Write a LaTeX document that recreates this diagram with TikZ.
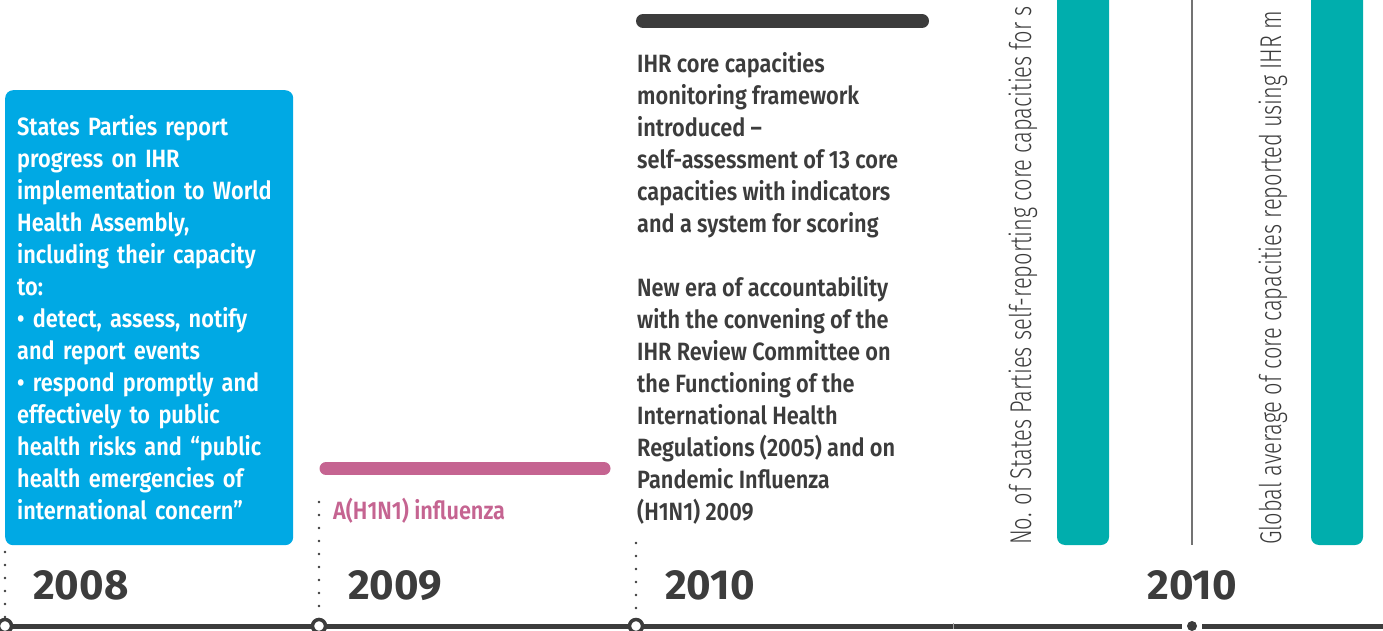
\documentclass[tikz,border=0pt]{standalone}
\usepackage{fontspec}
\usetikzlibrary{calc}
\setmainfont{Fira Sans}
\newfontfamily\bodyfont[FakeStretch=0.87]{Fira Sans SemiBold}
\newfontfamily\thinfont[FakeStretch=0.73]{Fira Sans Light}

\definecolor{timegray}{RGB}{60,60,60}
\definecolor{ihrblue}{RGB}{0,169,228}
\definecolor{ihrpink}{RGB}{197,100,145}
\definecolor{ihrteal}{RGB}{0,174,173}

\tikzset{
  bodytext/.style={anchor=north west, inner sep=0pt, align=left,
    font=\bodyfont\fontsize{25}{32}\selectfont},
  yearlabel/.style={anchor=base west, inner sep=0pt, text=timegray,
    font=\fontsize{42}{42}\selectfont\bfseries},
  sidelabel/.style={anchor=base west, rotate=90, inner sep=0pt, text=timegray,
    font=\thinfont\fontsize{30}{30}\selectfont},
  marker/.style={circle, draw=timegray, fill=white, line width=3.5pt,
    minimum size=13pt, inner sep=0pt},
  dotline/.style={timegray, line width=2.8pt, line cap=round, dash pattern=on 0pt off 13pt},
  eventbar/.style={line width=14pt, line cap=round},
  timeline/.style={timegray, line width=5pt}
}

\begin{document}
\begin{tikzpicture}[x=1pt, y=-1pt]

    % Page frame, anything beyond it is cut off
    \clip (0,0) rectangle (1383,631);

    % Points of the time axis
    \coordinate (tstart) at (0,626);
    \coordinate (t2008) at (5,626);
    \coordinate (t2009) at (319,626);
    \coordinate (t2010) at (636,626);
    \coordinate (tseam) at (953,626);
    \coordinate (gapleft) at (1182,626);
    \coordinate (t2010b) at (1192,626);
    \coordinate (gapright) at (1202,626);
    \coordinate (tend) at (1383,626);

    % The time axis itself, with a gap round the last mark
    \draw[timeline] (tstart) -- (gapleft);
    \draw[timeline] (gapright) -- (tend);
    \draw[gray!70, line width=0.8pt] ($(tseam)+(0,-3)$) -- ($(tseam)+(0,3)$);

    % 2008: blue box with the report
    \node[bodytext, anchor=north west, fill=ihrblue, text=white, rounded corners=8pt,
          text width=264pt, inner xsep=12pt, inner ysep=0pt,
          minimum width=288pt, minimum height=455pt] (report) at (5,90)
      {States Parties report\\
       progress on IHR\\
       implementation to World\\
       Health Assembly,\\
       including their capacity\\
       to:\\
       \textbullet{} detect, assess, notify\\
       and report events\\
       \textbullet{} respond promptly and\\
       effectively to public\\
       health risks and “public\\
       health emergencies of\\
       international concern”};

    % 2009: pink bar and label
    \coordinate (pinkleft) at (326,468.5);
    \coordinate (pinkright) at (604,468.5);
    \draw[eventbar, ihrpink, line width=13pt] (pinkleft) -- (pinkright);
    \node[bodytext, anchor=base west, text=ihrpink] (flu) at (333,519) {A(H1N1) influenza};

    % 2010: dark bar and the two paragraphs
    \coordinate (darkleft) at (643,21);
    \coordinate (darkright) at (922,21);
    \draw[eventbar, timegray] (darkleft) -- (darkright);
    \node[bodytext, text=timegray] (framework) at (637,52)
      {IHR core capacities\\
       monitoring framework\\
       introduced –\\
       self-assessment of 13 core\\
       capacities with indicators\\
       and a system for scoring\\[32pt]
       New era of accountability\\
       with the convening of the\\
       IHR Review Committee on\\
       the Functioning of the\\
       International Health\\
       Regulations (2005) and on\\
       Pandemic Influenza\\
       (H1N1) 2009};

    % Right part: two teal bars with their rotated labels
    \fill[ihrteal, rounded corners=8pt] (1057,-20) rectangle (1109,545);
    \fill[ihrteal, rounded corners=8pt] (1311,-20) rectangle (1363,545);
    \draw[gray!90!black, line width=1.2pt] (1192,-5) -- (1192,545);
    \node[sidelabel] (count) at (1031,545)
      {No. of States Parties self-reporting core capacities for s};
    \node[sidelabel] (average) at (1281,545)
      {Global average of core capacities reported using IHR m};

    % Dotted guides down to the axis
    \draw[dotline] (5,552) -- (t2008);
    \draw[dotline] (319,502) -- (t2009);
    \draw[dotline] (636,543) -- (t2010);

    % Marks on the axis
    \node[marker] (m2008) at (t2008) {};
    \node[marker] (m2009) at (t2009) {};
    \node[marker] (m2010) at (t2010) {};
    \fill[timegray] (t2010b) circle (5pt);

    % Years
    \node[yearlabel] (y2008) at (33,599) {2008};
    \node[yearlabel] (y2009) at (348,599) {2009};
    \node[yearlabel] (y2010) at (665,599) {2010};
    \node[yearlabel, anchor=base] (y2010b) at (1192,599) {2010};

\end{tikzpicture}
\end{document}
